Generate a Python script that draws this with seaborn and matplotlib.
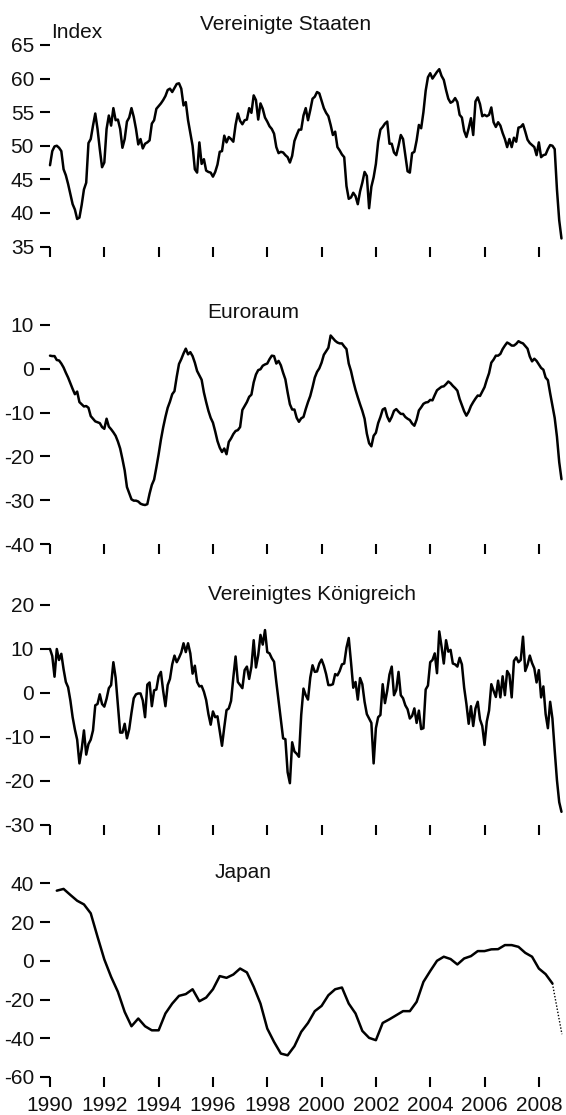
import numpy as np
import pandas as pd
import matplotlib
matplotlib.use("Agg")
import matplotlib.pyplot as plt
import seaborn as sns

# --- data (monthly from Jan 1990 to Nov 2008, Japan quarterly) ---
us_values = [
    47.1, 49.2, 49.9, 50.0, 49.7, 49.2, 46.5, 45.6, 44.3, 42.8,
    41.3, 40.5, 39.1, 39.3, 41.2, 43.5, 44.5, 50.4, 51.0, 53.0,
    54.8, 52.5, 49.5, 46.8, 47.5, 52.5, 54.5, 53.0, 55.6, 53.8,
    53.9, 52.5, 49.7, 51.0, 53.6, 54.2, 55.6, 54.3, 52.5, 50.2,
    51.0, 49.6, 50.3, 50.5, 50.8, 53.3, 53.8, 55.5, 55.9, 56.3,
    56.8, 57.4, 58.3, 58.5, 58.0, 58.6, 59.2, 59.3, 58.5, 56.0,
    56.5, 53.8, 51.9, 50.0, 46.5, 46.0, 50.5, 47.3, 48.0, 46.3,
    46.1, 46.0, 45.4, 46.1, 47.2, 49.1, 49.2, 51.5, 50.5, 51.3,
    51.0, 50.6, 53.1, 54.8, 53.7, 53.2, 53.8, 53.9, 55.6, 54.9,
    57.5, 56.8, 53.9, 56.3, 55.5, 54.2, 53.6, 52.9, 52.5, 51.8,
    49.8, 48.9, 49.1, 49.0, 48.6, 48.3, 47.5, 48.5, 50.7, 51.6,
    52.4, 52.4, 54.5, 55.6, 53.8, 55.3, 57.0, 57.3, 58.0, 57.8,
    56.7, 55.6, 54.9, 54.4, 53.1, 51.6, 52.1, 49.8, 49.3, 48.7,
    48.3, 44.0, 42.1, 42.3, 43.0, 42.5, 41.3, 43.2, 44.5, 46.1,
    45.5, 40.7, 43.9, 45.3, 47.3, 50.6, 52.4, 52.8, 53.3, 53.6,
    50.3, 50.3, 49.0, 48.6, 50.0, 51.6, 51.0, 48.6, 46.2, 46.0,
    48.9, 49.1, 50.8, 53.1, 52.6, 55.0, 58.2, 60.2, 60.8, 60.0,
    60.5, 61.0, 61.4, 60.4, 59.8, 58.3, 57.0, 56.4, 56.6, 57.1,
    56.5, 54.6, 54.2, 52.2, 51.3, 52.6, 54.1, 51.6, 56.6, 57.2,
    56.2, 54.4, 54.6, 54.4, 54.6, 55.7, 53.5, 52.8, 53.5, 53.0,
    51.9, 51.0, 49.8, 51.0, 49.8, 51.2, 50.6, 52.7, 52.8, 53.2,
    52.1, 50.9, 50.4, 50.1, 49.8, 48.6, 50.5, 48.3, 48.6, 48.7,
    49.5, 50.1, 50.0, 49.5, 43.5, 38.9, 36.2,
]

euro_values = [
    3.0, 2.9, 2.9, 2.0, 1.9, 1.2, 0.3, -0.9, -2.0, -3.3,
    -4.6, -5.8, -5.2, -7.6, -8.1, -8.6, -8.5, -8.9, -10.8, -11.4,
    -12.0, -12.2, -12.4, -13.3, -13.7, -11.4, -13.2, -13.8, -14.5, -15.3,
    -16.6, -18.2, -20.6, -23.2, -27.0, -28.4, -29.8, -30.1, -30.1, -30.3,
    -30.8, -31.0, -31.1, -30.9, -28.5, -26.5, -25.3, -22.5, -19.5, -16.2,
    -13.4, -11.0, -8.9, -7.5, -5.8, -5.1, -1.8, 1.1, 2.2, 3.5,
    4.6, 3.3, 3.8, 2.9, 1.4, -0.5, -1.5, -2.5, -5.4, -7.6,
    -9.6, -11.2, -12.3, -14.3, -16.5, -18.0, -19.0, -18.2, -19.5, -16.7,
    -15.9, -14.9, -14.2, -14.0, -13.3, -9.4, -8.5, -7.6, -6.4, -5.9,
    -3.1, -1.3, -0.3, -0.1, 0.7, 1.0, 1.2, 2.2, 3.0, 2.9,
    1.2, 1.8, 0.8, -0.9, -2.4, -5.4, -8.1, -9.3, -9.3, -11.2,
    -12.1, -11.3, -11.0, -9.2, -7.6, -6.2, -4.2, -2.0, -0.7, 0.1,
    1.4, 3.2, 4.0, 4.8, 7.6, 7.0, 6.4, 6.0, 5.8, 5.8,
    5.1, 4.5, 1.2, -0.5, -2.8, -4.8, -6.5, -8.1, -9.6, -11.4,
    -14.8, -17.0, -17.7, -15.3, -14.6, -12.4, -11.0, -9.3, -9.0, -10.9,
    -12.0, -11.0, -9.6, -9.2, -9.8, -10.3, -10.3, -11.0, -11.4, -11.7,
    -12.5, -13.0, -11.6, -9.5, -8.8, -8.0, -7.7, -7.6, -7.1, -7.2,
    -6.0, -4.9, -4.5, -4.1, -4.0, -3.5, -2.9, -3.3, -3.9, -4.4,
    -5.0, -6.9, -8.3, -9.7, -10.7, -9.8, -8.5, -7.6, -6.8, -6.1,
    -6.2, -5.2, -4.2, -2.5, -1.0, 1.4, 2.1, 3.0, 3.0, 3.4,
    4.5, 5.3, 6.0, 5.7, 5.3, 5.3, 5.7, 6.3, 6.0, 5.8,
    5.2, 4.6, 2.8, 1.7, 2.3, 1.8, 1.0, 0.2, -0.2, -2.0,
    -2.6, -5.6, -8.4, -11.2, -15.5, -21.3, -25.2,
]

uk_values = [
    10.0, 8.4, 3.7, 10.0, 7.5, 8.9, 5.4, 2.5, 1.3, -1.7,
    -5.5, -8.3, -10.6, -16.0, -12.8, -8.5, -14.0, -11.6, -10.6, -8.5,
    -2.8, -2.5, -0.3, -2.5, -3.1, -1.3, 1.1, 1.8, 7.0, 3.5,
    -2.6, -9.0, -9.0, -7.0, -10.3, -8.2, -4.5, -1.2, -0.3, -0.1,
    -0.1, -1.7, -5.5, 1.9, 2.4, -3.0, 0.6, 0.8, 3.8, 4.8,
    0.5, -3.0, 1.8, 3.2, 6.5, 8.5, 7.0, 8.0, 9.2, 11.3,
    9.3, 11.3, 9.0, 4.4, 6.2, 2.5, 1.5, 1.6, 0.3, -1.6,
    -4.8, -7.2, -4.2, -5.5, -5.3, -8.7, -12.0, -7.8, -3.9, -3.5,
    -1.8, 3.5, 8.3, 2.5, 1.8, 1.1, 5.2, 6.0, 3.2, 6.0,
    12.0, 5.8, 8.6, 13.2, 11.0, 14.3, 9.3, 9.0, 7.9, 7.1,
    2.5, -1.7, -6.0, -10.3, -10.5, -18.0, -20.5, -11.2, -13.3, -13.8,
    -14.5, -5.0, 1.0, -0.5, -1.5, 3.5, 6.3, 4.8, 4.9, 6.7,
    7.6, 6.2, 4.3, 1.8, 1.8, 2.0, 4.3, 4.0, 5.0, 6.5,
    6.7, 10.3, 12.5, 7.0, 1.2, 2.5, -1.5, 3.4, 2.0, -2.0,
    -4.8, -5.8, -6.8, -16.0, -8.0, -5.5, -5.0, 2.0, -2.3, 0.5,
    4.2, 6.0, -0.5, 0.7, 4.8, -0.5, -1.2, -2.8, -3.7, -5.8,
    -5.2, -3.5, -6.8, -4.0, -8.2, -8.0, 0.8, 1.7, 7.0, 7.5,
    9.0, 4.5, 14.0, 10.6, 6.7, 12.0, 9.4, 9.8, 6.7, 6.5,
    6.0, 8.0, 6.5, 1.2, -2.5, -7.0, -3.0, -7.5, -3.5, -2.0,
    -6.0, -7.5, -11.8, -6.5, -4.0, 2.0, 0.5, -0.9, 2.8, -1.0,
    3.8, -0.5, 5.0, 4.1, -1.0, 7.3, 8.1, 7.0, 7.5, 12.8,
    5.0, 6.4, 8.5, 6.8, 5.6, 2.4, 5.2, -1.0, 1.5, -4.8,
    -8.0, -2.0, -5.8, -13.0, -19.8, -24.8, -27.0,
]

japan_values = [
    36.2, 37.1, 34.0, 31.0, 29.1, 24.5, 12.4, 0.7, -8.3, -16.0,
    -26.4, -33.8, -29.8, -33.8, -35.9, -35.9, -27.2, -22.1, -18.1, -17.2,
    -14.7, -20.9, -19.0, -14.7, -7.9, -8.8, -7.1, -4.0, -6.0, -13.4,
    -22.1, -35.0, -41.9, -47.9, -48.8, -44.1, -36.7, -32.1, -26.0, -23.3,
    -17.8, -14.7, -13.8, -22.1, -27.2, -36.2, -39.8, -41.0, -32.1, -30.2,
    -28.1, -26.0, -26.0, -21.2, -10.9, -5.3, 0.0, 2.1, 0.9, -1.9,
    1.2, 2.4, 5.0, 5.0, 5.9, 6.0, 8.1, 8.1, 7.2, 4.1,
    2.1, -4.0, -6.9, -11.7,
]
# dotted continuation (forecast) of the Japan series
japan_proj_x = [2008.5, 2008.85]
japan_proj_values = [-11.7, -37.9]

titles = ["Vereinigte Staaten", "Euroraum", "Vereinigtes Königreich", "Japan"]
y_ranges = [(35, 65), (-40, 10), (-30, 20), (-60, 40)]
y_steps = [5, 10, 10, 20]
year_ticks = list(range(1990, 2009, 2))

months = pd.date_range("1990-01-01", periods=len(us_values), freq="MS")
month_x = months.year + (months.month - 1) / 12
quarters = pd.date_range("1990-04-01", periods=len(japan_values), freq="QS")
quarter_x = quarters.year + (quarters.month - 1) / 12

sns.set_style("ticks")
plt.rcParams['font.family'] = ['Liberation Sans', 'DejaVu Sans']
plt.rcParams['axes.unicode_minus'] = False

W, H = 566, 1115
fig = plt.figure(figsize=(W / 100, H / 100), dpi=100)

# panel boxes in pixels: (top of y range, bottom of y range)
boxes = [(45, 246.5), (325, 544), (605, 825), (883.3, 1077)]
title_pos = [(200, 30), (207, 318), (208, 600), (215, 878)]

series = [(month_x, us_values), (month_x, euro_values), (month_x, uk_values), (quarter_x, japan_values)]

for i, ((xs, vals), (top, bot)) in enumerate(zip(series, boxes)):
    ax = fig.add_axes([50 / W, 1 - bot / H, 516 / W, (bot - top) / H])
    df = pd.DataFrame({"year": xs, "value": vals})
    sns.lineplot(data=df, x="year", y="value", ax=ax, color="black", lw=1.8, clip_on=False)
    if i == 3:
        proj = pd.DataFrame({"year": japan_proj_x, "value": japan_proj_values})
        sns.lineplot(data=proj, x="year", y="value", ax=ax, color="black", lw=1.0,
                     linestyle=(0, (1, 1.3)), clip_on=False)
    lo, hi = y_ranges[i]
    ax.set_xlim(1990, 2009)
    ax.set_ylim(lo, hi)
    ax.set_xticks(year_ticks)
    ax.set_yticks(np.arange(lo, hi + 1, y_steps[i]))
    ax.set_xlabel("")
    ax.set_ylabel("")
    sns.despine(ax=ax, left=True, bottom=True)
    ax.tick_params(axis="both", direction="out", length=7, width=1.5, color="black",
                   labelsize=15, labelcolor="#111111")
    ax.tick_params(axis="y", pad=4.5)
    ax.tick_params(axis="x", pad=7, labelbottom=(i == 3))
    ax.patch.set_alpha(0)
    tx, ty = title_pos[i]
    fig.text(tx / W, 1 - ty / H, titles[i], fontsize=15, ha="left", va="baseline", color="#111111")

fig.text(51 / W, 1 - 38 / H, "Index", fontsize=15, ha="left", va="baseline", color="#111111")

fig.savefig("out.png", dpi=100)
